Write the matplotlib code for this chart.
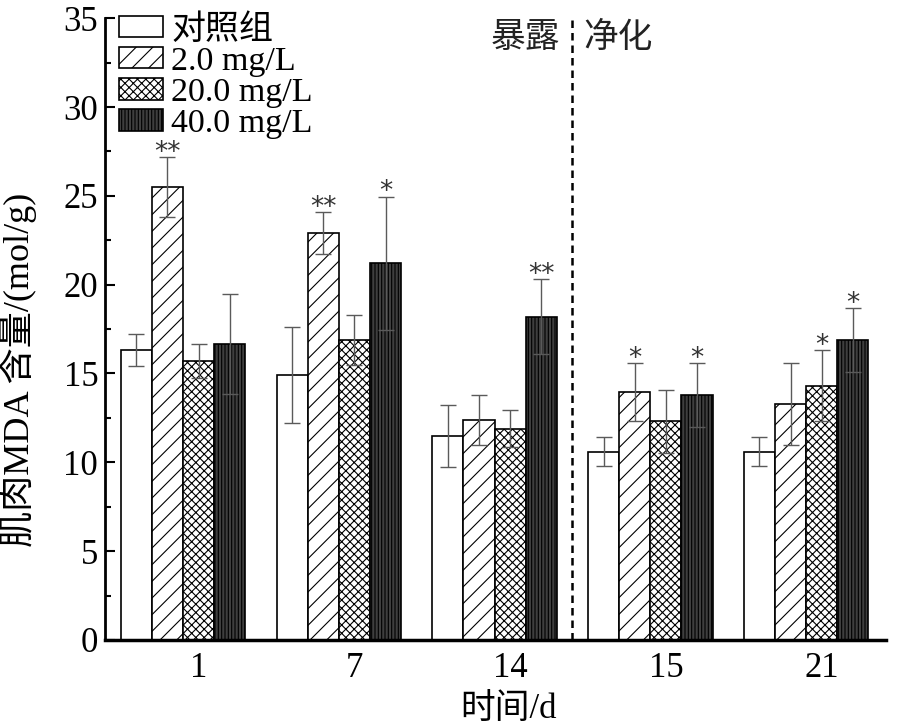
import numpy as np
import matplotlib
matplotlib.use("Agg")
import matplotlib.pyplot as plt

plt.rcParams["font.family"] = ["Liberation Serif", "Noto Sans CJK SC"]
plt.rcParams["hatch.linewidth"] = 0.8

days = ["1", "7", "14", "15", "21"]
groups = ["对照组", "2.0 mg/L", "20.0 mg/L", "40.0 mg/L"]

ctrl = [16.3, 14.9, 11.5, 10.6, 10.6]
low = [25.5, 22.9, 12.4, 13.95, 13.3]
mid = [15.7, 16.9, 11.9, 12.3, 14.3]
high = [16.65, 21.2, 18.2, 13.8, 16.9]

ctrl_err = [0.9, 2.7, 1.75, 0.8, 0.8]
low_err = [1.7, 1.2, 1.4, 1.65, 2.3]
mid_err = [0.95, 1.4, 1.05, 1.75, 2.0]
high_err = [2.8, 3.75, 2.1, 1.8, 1.8]

ctrl_sig = ["", "", "", "", ""]
low_sig = ["**", "**", "", "*", ""]
mid_sig = ["", "", "", "", "*"]
high_sig = ["", "*", "**", "*", "*"]

values = [ctrl, low, mid, high]
errors = [ctrl_err, low_err, mid_err, high_err]
marks = [ctrl_sig, low_sig, mid_sig, high_sig]
faces = ["white", "white", "white", "#3f3f3f"]
hatches = ["", "//", "xxxx", "|||||"]

x = np.arange(len(days))
w = 0.2

fig = plt.figure(figsize=(8.99, 7.28), dpi=100)
ax = fig.add_axes([0.117, 0.121, 0.868, 0.854])

for i in range(4):
    pos = x + (i - 1.5) * w
    ax.bar(pos, values[i], w, color=faces[i], edgecolor="black",
           hatch=hatches[i], linewidth=1.2, label=groups[i])
    ax.errorbar(pos, values[i], yerr=errors[i], fmt="none",
                ecolor="#5a5a5a", elinewidth=1.0, capsize=5.5, capthick=1.0)
    for p, v, e, s in zip(pos, values[i], errors[i], marks[i]):
        if s:
            ax.annotate(s, (p, v + e), xytext=(0, -2), textcoords="offset points",
                        ha="center", va="baseline", fontsize=19,
                        family="DejaVu Sans", color="#333333")

ax.axvline(2.5, color="black", linestyle=(0, (3, 2)), linewidth=1.8)
ax.text(2.42, 34.9, "暴露", ha="right", va="top", fontsize=25,
        family=["Noto Sans CJK SC"], color="#222222")
ax.text(2.57, 34.9, "净化", ha="left", va="top", fontsize=25,
        family=["Noto Sans CJK SC"], color="#222222")

ax.set_xlim(-0.5, 4.51)
ax.set_ylim(0, 35)
ax.set_xticks(x + w / 2)
ax.set_xticklabels(days)
ax.set_yticks(np.arange(0, 36, 5))
ax.set_yticks(np.arange(2.5, 35, 5), minor=True)
ax.tick_params(axis="x", length=0, labelsize=25, pad=9)
ax.tick_params(axis="y", which="major", direction="in", length=7, width=1.5,
               labelsize=25, pad=5)
ax.tick_params(axis="y", which="minor", direction="in", length=4, width=1.5)
ax.spines["top"].set_visible(False)
ax.spines["right"].set_visible(False)
ax.spines["left"].set_linewidth(2)
ax.spines["bottom"].set_linewidth(2.5)

ax.set_xlabel("时间/d", fontsize=25)
ax.xaxis.set_label_coords(0.517, -0.085)
ax.set_ylabel("肌肉MDA 含量/(mol/g)", fontsize=26)
ax.yaxis.set_label_coords(-0.087, 0.434)

ax.legend(loc="upper left", bbox_to_anchor=(-0.009, 1.04), frameon=False,
          fontsize=24.5, handlelength=1.3, handleheight=0.6,
          handletextpad=0.25, labelspacing=0.02, borderaxespad=0.2)

fig.savefig("out.png", dpi=100)
